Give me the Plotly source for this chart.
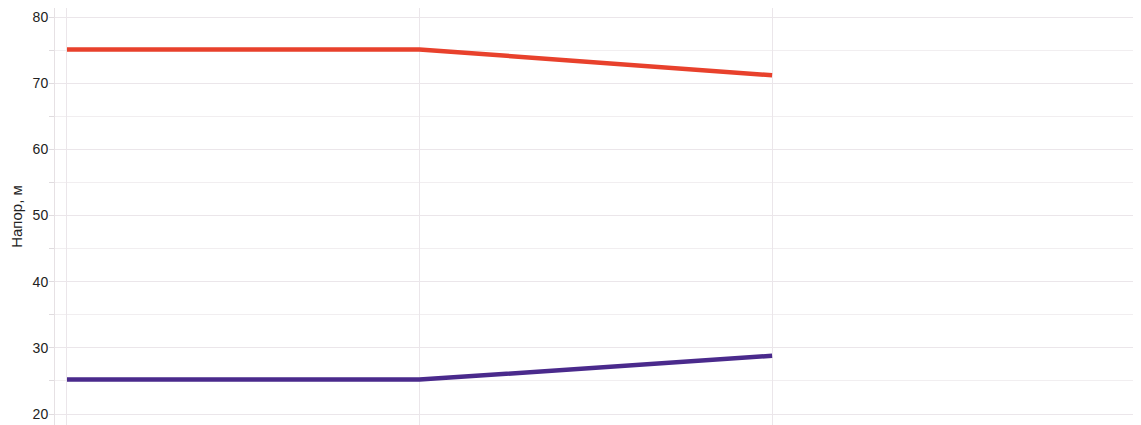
import plotly.graph_objects as go

# Data
points = [0, 1, 2]
supply_head = [75.1, 75.1, 71.2]
return_head = [25.2, 25.2, 28.8]
y_ticks = [20, 30, 40, 50, 60, 70, 80]

fig = go.Figure()
fig.add_trace(go.Scatter(x=points, y=supply_head, mode="lines",
                         line=dict(color="#e8412c", width=4.5), showlegend=False))
fig.add_trace(go.Scatter(x=points, y=return_head, mode="lines",
                         line=dict(color="#4a2a8c", width=4.5), showlegend=False))

# page body adds an 8px offset, so the figure is sized to the remaining window
fig.update_layout(
    width=1133, height=417,
    margin=dict(l=47, r=4, t=0, b=0, autoexpand=False),
    plot_bgcolor="white", paper_bgcolor="white",
    font=dict(family="Arial, Liberation Sans, sans-serif", size=13, color="#333333"),
)
fig.update_xaxes(
    range=[-0.034, 3.035], tickvals=points, showticklabels=False,
    showgrid=True, gridcolor="#ebe6ea", gridwidth=1, zeroline=False,
    showline=True, linecolor="#e6e1e4", mirror=True, automargin=False,
)
fig.update_yaxes(
    range=[18.34, 81.36], tickvals=y_ticks, ticks="", ticklen=0,
    showgrid=True, gridcolor="#ebe6ea", gridwidth=1, zeroline=False,
    minor=dict(dtick=5, showgrid=True, gridcolor="#f1eef0", ticks="outside", ticklen=5, tickcolor="#e0dcdf"),
    showline=True, linecolor="#e6e1e4", mirror=True, automargin=False,
    ticklabelstandoff=3,
    title=dict(text="Напор, м", font=dict(size=15, color="#222222"), standoff=6),
    tickfont=dict(size=14, color="#222222"),
)

fig.write_html("out.html")
